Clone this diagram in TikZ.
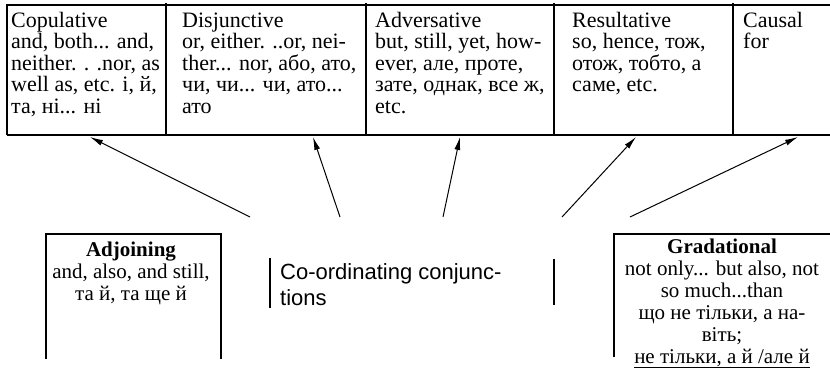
\documentclass[tikz,border=0pt]{standalone}
\usepackage{fontspec}
\setmainfont{Liberation Serif}
\newfontfamily\labelsans{Liberation Sans}
\usetikzlibrary{arrows.meta}
\newcommand{\cellfont}{\fontsize{22}{21.6}\selectfont}
\newcommand{\boxfont}{\fontsize{21}{22}\selectfont}
\newcommand{\midfont}{\labelsans\fontsize{22}{26}\selectfont}

\begin{document}
\begin{tikzpicture}[x=1pt,y=-1pt]
	\tikzset{cell/.style = {anchor=base west, align=left, inner sep=0pt, font=\cellfont}}
	\tikzset{kind/.style = {anchor=base, align=center, inner sep=0pt, font=\boxfont}}
	\tikzset{rule/.style = {line width=1.6pt}}
	\tikzset{frame/.style = {line width=1.3pt}}
	\tikzset{edge/.style = {-{Latex[length=13pt,width=6pt]}, line width=1pt}}
	\useasboundingbox (0,0) rectangle (830,381);
    % table of kinds (nodes sit on the baseline of their last line)
    \draw[rule] (7,135) -- (7,5) -- (830,5);
    \draw[rule] (7,135) -- (830,135);
    \foreach \x in {166,366,554,733}
        \draw[rule] (\x,3) -- (\x,135);
    \node[cell] (cop) at (11,113.4) {Copulative\\and, both... and,\\neither. . .nor, as\\well as, etc. і, й,\\та, ні... ні};
    \node[cell] (dis) at (182,113.4) {Disjunctive\\or, either. ..or, nei-\\ther... nor, або, ато,\\чи, чи... чи, ато...\\ато};
    \node[cell] (adv) at (375,113.4) {Adversative\\but, still, yet, how-\\ever, але, проте,\\зате, однак, все ж,\\etc.};
    \node[cell] (res) at (572,91.8) {Resultative\\so, hence, тож,\\отож, тобто, а\\саме, etc.};
    \node[cell] (cau) at (743,48.6) {Causal\\for};
    % lower boxes
    \draw[frame] (46,359) |- (221,234) -- (221,359);
    \draw[frame] (614,357) |- (830,234);
    \node[kind] (adj) at (131,300) {\textbf{Adjoining}\\and, also, and still,\\та й, та ще й};
    \node[kind] (gra) at (722,363) {\textbf{Gradational}\\not only... but also, not\\so much...than\\що не тільки, а на-\\віть;\\\underline{не тільки, а й /але й}};
    % centre
    \draw[frame] (270,258) -- (270,308);
    \draw[frame] (554,259) -- (554,305);
    \node[anchor=base west, align=left, inner sep=0pt, font=\midfont] (coord) at (280,305) {Co-ordinating conjunc-\\tions};
    %edges
    \foreach \i/\sx/\tx in {1/250/90, 2/340/313, 3/443/460, 4/562/636, 5/630/798} {
        \coordinate (s\i) at (\sx,217);
        \coordinate (t\i) at (\tx,137);
        \draw[edge] (s\i) -- (t\i);
    }
\end{tikzpicture}
\end{document}
